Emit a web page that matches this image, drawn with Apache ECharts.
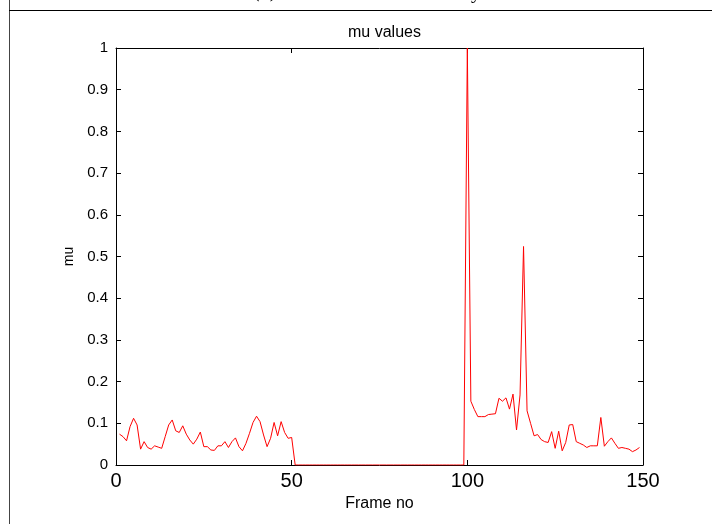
<!DOCTYPE html>
<html>
<head>
<meta charset="utf-8">
<script src="https://cdn.jsdelivr.net/npm/echarts@6/dist/echarts.min.js"></script>
<style>html,body{margin:0;padding:0;background:#fff}#c{width:712px;height:524px}</style>
</head>
<body>
<div id="c"></div>
<script>
// Frame numbers 1..149
const frames1 = [1,2,3,4,5,6,7,8,9,10,11,12,13,14,15,16,17,18,19,20,21,22,23,24,25,26,27,28,29,30,31,32,33,34,35,36,37,38,39,40,41,42,43,44,45,46,47,48,49,50];
const mu1 = [0.074,0.068,0.058,0.092,0.112,0.096,0.038,0.056,0.042,0.038,0.046,0.043,0.040,0.068,0.096,0.108,0.082,0.078,0.094,0.074,0.060,0.050,0.062,0.079,
  0.044,0.044,0.036,0.035,0.046,0.046,0.056,0.042,0.056,0.065,0.044,0.034,0.052,0.076,0.102,0.117,0.104,0.072,0.044,0.064,0.102,0.070,0.104,0.078,0.064,0.066];
// frames 51..99 are zero
const zeroStart = 51;
const zeroEnd = 99;
const frames3 = [100,101,102,103,104,105,106,107,108,109,110,111,112,113,114,115,116,117,118,119,120,121,122,123,124,125,126,127,128,129,130,131,132,133,134,135,136,137,138,139,140,141,142,143,144,145,146,147,148,149];
const mu3 = [1.0,0.153,0.133,0.116,0.116,0.116,0.121,0.122,0.123,0.160,0.153,0.161,0.134,0.170,0.084,0.168,0.524,0.130,0.100,0.070,0.073,0.061,0.056,0.054,0.080,0.040,0.081,0.034,0.054,0.096,0.097,0.056,0.052,0.048,0.042,0.046,0.046,0.046,0.114,0.045,0.056,0.065,0.052,0.040,0.042,0.040,0.038,0.032,0.036,0.042];
const xTicks = [0,50,100,150];
const yTicks = [0,0.1,0.2,0.3,0.4,0.5,0.6,0.7,0.8,0.9,1];

const data = [];
frames1.forEach((f,i)=>data.push([f,mu1[i]]));
for (let f = zeroStart; f <= zeroEnd; f++) data.push([f,0]);
frames3.forEach((f,i)=>data.push([f,mu3[i]]));

const font = 'Liberation Sans, Arial, Helvetica, sans-serif';
const chart = echarts.init(document.getElementById('c'), null, {renderer:'canvas'});
const axisLine = {show:true, onZero:false, lineStyle:{color:'#000', width:1}};
const tick = {show:true, inside:true, length:5, lineStyle:{color:'#000'}};
chart.setOption({
  animation:false,
  backgroundColor:'#fff',
  title:{text:'mu values', left:379.5, textAlign:'center', top:20,
    textStyle:{fontFamily:font, fontSize:16, fontWeight:'normal', color:'#000'}},
  grid:{left:116, top:48, width:527, height:417, containLabel:false},
  xAxis:[
    {type:'value', min:0, max:150, interval:50, position:'bottom',
     name:'Frame no', nameLocation:'middle', nameGap:21,
     nameTextStyle:{fontFamily:font, fontSize:16, color:'#000'},
     axisLine, axisTick:tick,
     axisLabel:{show:true, margin:6, fontFamily:font, fontSize:20, color:'#000',
       formatter:v=>{const t=xTicks.find(x=>x===v);return t===undefined?'':String(t);}},
     splitLine:{show:false}},
    {type:'value', min:0, max:150, interval:50, position:'top',
     axisLine, axisTick:tick,
     axisLabel:{show:false}, splitLine:{show:false}}
  ],
  yAxis:[
    {type:'value', min:0, max:1, interval:0.1, position:'left',
     name:'mu', nameLocation:'middle', nameGap:38, nameRotate:90,
     nameTextStyle:{fontFamily:font, fontSize:14, color:'#000'},
     axisLine, axisTick:tick,
     axisLabel:{show:true, margin:8, fontFamily:font, fontSize:15, color:'#000',
       formatter:v=>{const t=yTicks.find(x=>Math.abs(x-v)<1e-9);return t===undefined?'':String(t);}},
     splitLine:{show:false}},
    {type:'value', min:0, max:1, interval:0.1, position:'right',
     axisLine, axisTick:tick,
     axisLabel:{show:false}, splitLine:{show:false}}
  ],
  series:[{type:'line', data, xAxisIndex:0, yAxisIndex:0, showSymbol:false, symbol:'none',
    lineStyle:{color:'#ff0000', width:1}, clip:true}],
  graphic:[
    {type:'line', shape:{x1:9.5,y1:0,x2:9.5,y2:524}, style:{stroke:'#444', lineWidth:1}},
    {type:'line', shape:{x1:9,y1:10.5,x2:712,y2:10.5}, style:{stroke:'#000', lineWidth:1.2}},
    {type:'text', left:253, top:-18, style:{text:'(b)', font:'20px "Liberation Serif", serif', fill:'#000'}},
    {type:'text', left:471, top:-17, style:{text:'y', font:'20px "Liberation Serif", serif', fill:'#000'}}
  ]
});
</script>
</body>
</html>
